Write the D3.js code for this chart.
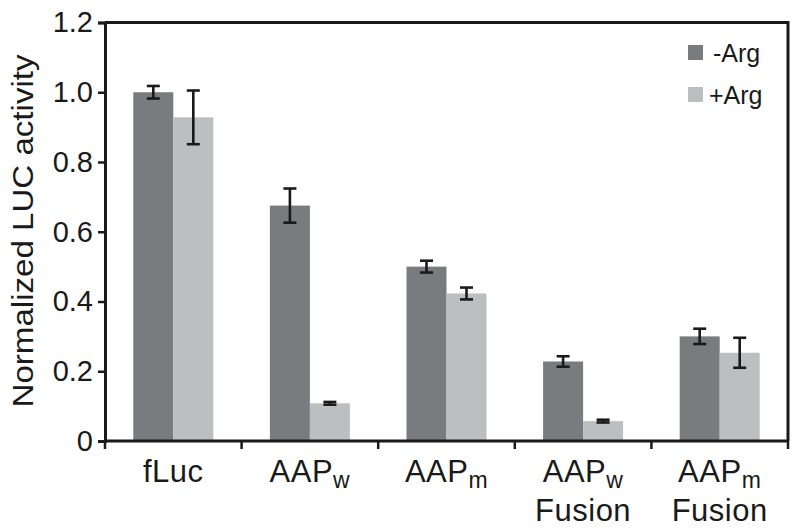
<!DOCTYPE html>
<html>
<head>
<meta charset="utf-8">
<script src="https://cdn.jsdelivr.net/npm/d3@7"></script>
<style>
  html, body { margin: 0; padding: 0; background: #fff; }
  svg text { font-family: "Liberation Sans", Arial, Helvetica, sans-serif; fill: #1a1a1a; }
</style>
</head>
<body>
<svg id="chart" width="800" height="532"></svg>
<script>
// ---- data ----
const categories = ["fLuc", "AAPw", "AAPm", "AAPw Fusion", "AAPm Fusion"];
const labelMain = ["fLuc", "AAP", "AAP", "AAP", "AAP"];
const labelSub = ["", "w", "m", "w", "m"];
const labelLine2 = ["", "", "", "Fusion", "Fusion"];
const series = ["-Arg", "+Arg"];
const minusArg = [1.00, 0.675, 0.50, 0.228, 0.30];
const minusArgErr = [0.018, 0.049, 0.017, 0.015, 0.022];
const plusArg = [0.928, 0.108, 0.423, 0.057, 0.253];
const plusArgErr = [0.077, 0.004, 0.017, 0.004, 0.043];
const yTicks = [0, 0.2, 0.4, 0.6, 0.8, 1.0, 1.2];
const yTickLabels = ["0", "0.2", "0.4", "0.6", "0.8", "1.0", "1.2"];
const colors = ["#7a7b7f", "#bdbec0"];

// ---- layout ----
const svg = d3.select("#chart");
const mLeft = 105, mRight = 788, mTop = 22.5, mBottom = 441;

const x0 = d3.scaleBand().domain(categories).range([mLeft, mRight]).padding(0);
const bw = x0.bandwidth();
const pairW = 80;
const x1 = d3.scaleBand().domain(series).range([(bw - pairW) / 2, (bw + pairW) / 2]).padding(0);
const y = d3.scaleLinear().domain([0, 1.2]).range([mBottom, mTop]);

const rows = categories.map((c, i) => ({
  cat: c,
  vals: [
    { s: series[0], v: minusArg[i], e: minusArgErr[i] },
    { s: series[1], v: plusArg[i], e: plusArgErr[i] }
  ]
}));

// bars
const g = svg.append("g");
const grp = g.selectAll("g.grp").data(rows).join("g")
  .attr("transform", d => `translate(${x0(d.cat)},0)`);
grp.selectAll("rect").data(d => d.vals).join("rect")
  .attr("x", d => x1(d.s))
  .attr("width", x1.bandwidth())
  .attr("y", d => y(d.v))
  .attr("height", d => y(0) - y(d.v))
  .attr("fill", (d, i) => colors[i]);

// error bars
const capW = 13;
grp.selectAll("g.err").data(d => d.vals).join("g").attr("class", "err")
  .each(function(d) {
    const cx = x1(d.s) + x1.bandwidth() / 2;
    const sel = d3.select(this);
    const segs = [
      [cx, y(d.v + d.e), cx, y(d.v - d.e)],
      [cx - capW / 2, y(d.v + d.e), cx + capW / 2, y(d.v + d.e)],
      [cx - capW / 2, y(d.v - d.e), cx + capW / 2, y(d.v - d.e)]
    ];
    sel.selectAll("line").data(segs).join("line")
      .attr("x1", s => s[0]).attr("y1", s => s[1]).attr("x2", s => s[2]).attr("y2", s => s[3])
      .attr("stroke", "#1a1a1a").attr("stroke-width", 2.6);
  });

// frame (top and right)
svg.append("path")
  .attr("d", `M${mLeft},${mTop}H${mRight}V${mBottom}`)
  .attr("fill", "none").attr("stroke", "#1a1a1a").attr("stroke-width", 3);

// y axis
const yAxis = d3.axisLeft(y).tickValues(yTicks)
  .tickFormat((d, i) => yTickLabels[i]).tickSize(7).tickPadding(5);
const ya = svg.append("g").attr("transform", `translate(${mLeft},0)`).call(yAxis);
ya.select(".domain").attr("stroke", "#1a1a1a").attr("stroke-width", 3);
ya.selectAll(".tick line").attr("stroke", "#1a1a1a").attr("stroke-width", 2.5);
ya.selectAll(".tick text").attr("font-size", 29).attr("fill", "#1a1a1a")
  .attr("font-family", "Liberation Sans, Arial, sans-serif");

// x axis with ticks at group boundaries
const xa = svg.append("g").attr("transform", `translate(0,${mBottom})`);
xa.append("line").attr("x1", mLeft).attr("x2", mRight).attr("y1", 0).attr("y2", 0)
  .attr("stroke", "#1a1a1a").attr("stroke-width", 3);
const bounds = categories.map(c => x0(c)).concat([mRight]);
xa.selectAll("line.tk").data(bounds).join("line").attr("class", "tk")
  .attr("x1", d => d).attr("x2", d => d).attr("y1", 0).attr("y2", 8)
  .attr("stroke", "#1a1a1a").attr("stroke-width", 2.5);

// x labels
const xl = svg.append("g");
categories.forEach((c, i) => {
  const cx = x0(c) + bw / 2;
  const t = xl.append("text").attr("x", cx).attr("y", 482)
    .attr("text-anchor", "middle").attr("font-size", 31).attr("letter-spacing", 0.5);
  t.append("tspan").text(labelMain[i]);
  if (labelSub[i]) t.append("tspan").attr("font-size", 23).attr("dy", 6).text(labelSub[i]);
  if (labelLine2[i]) {
    xl.append("text").attr("x", cx).attr("y", 521)
      .attr("text-anchor", "middle").attr("font-size", 31).attr("letter-spacing", 0.5)
      .text(labelLine2[i]);
  }
});

// y title
svg.append("text")
  .attr("transform", `translate(33,231) rotate(-90)`)
  .attr("text-anchor", "middle").attr("font-size", 29)
  .attr("textLength", 353).attr("lengthAdjust", "spacingAndGlyphs")
  .text("Normalized LUC activity");

// legend
const lg = svg.append("g");
series.forEach((s, i) => {
  const yy = 45 + i * 42;
  lg.append("rect").attr("x", 688).attr("y", yy).attr("width", 15).attr("height", 15).attr("fill", colors[i]);
  lg.append("text").attr("x", i === 0 ? 713 : 709).attr("y", yy + 17).attr("font-size", 25).text(s);
});
</script>
</body>
</html>
